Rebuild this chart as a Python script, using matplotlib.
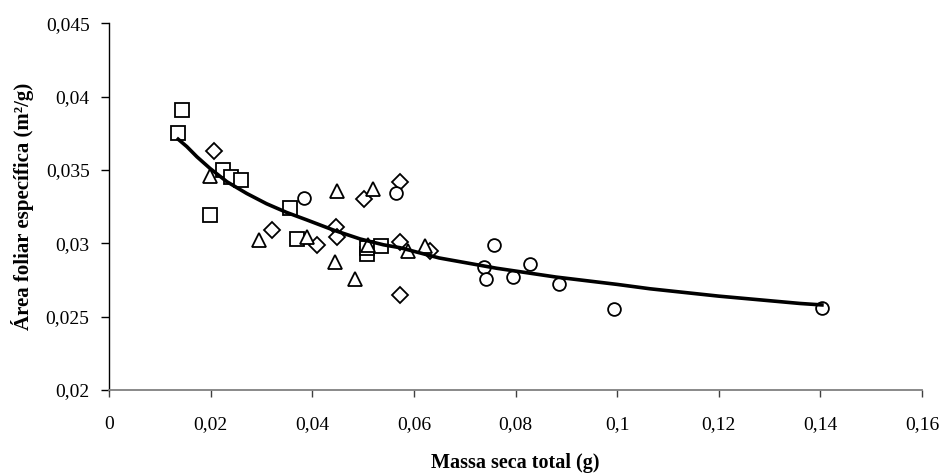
#!/usr/bin/env python3
"""
Specific leaf area vs total dry mass, with power trendline (Excel style).
"""

import matplotlib
matplotlib.use('Agg')
import matplotlib.pyplot as plt

# Data: total dry mass (g) and specific leaf area (m2/g)
sq_x = [0.0144, 0.0136, 0.0225, 0.0240, 0.0259, 0.0199, 0.0356, 0.0370, 0.0508, 0.0508, 0.0535]
sq_y = [0.0391, 0.0375, 0.0350, 0.0345, 0.0343, 0.0319, 0.0324, 0.0303, 0.0293, 0.0297, 0.0298]

di_x = [0.0207, 0.0320, 0.0409, 0.0446, 0.0449, 0.0502, 0.0573, 0.0573, 0.0573, 0.0631]
di_y = [0.0363, 0.0309, 0.0299, 0.0311, 0.0304, 0.0330, 0.0342, 0.0301, 0.0265, 0.0295]

tr_x = [0.0199, 0.0296, 0.0390, 0.0449, 0.0444, 0.0484, 0.0519, 0.0510, 0.0589, 0.0622]
tr_y = [0.0346, 0.0302, 0.0304, 0.0336, 0.0287, 0.0276, 0.0337, 0.0299, 0.0295, 0.0298]

ci_x = [0.0384, 0.0565, 0.0757, 0.0737, 0.0741, 0.0795, 0.0829, 0.0885, 0.0993, 0.1403]
ci_y = [0.0331, 0.0334, 0.0299, 0.0284, 0.0276, 0.0277, 0.0286, 0.0272, 0.0255, 0.0256]

# Trendline as traced on the chart
trend_x = [0.0136, 0.0153, 0.0173, 0.0199, 0.0232, 0.0271, 0.0310, 0.0350, 0.0389,
           0.0442, 0.0494, 0.0540, 0.0573, 0.0650, 0.0763, 0.0880, 0.1000, 0.1065,
           0.1200, 0.1360, 0.1403]
trend_y = [0.0371, 0.0366, 0.0359, 0.0351, 0.0342, 0.0334, 0.0327, 0.0321, 0.0316,
           0.0309, 0.0303, 0.0299, 0.0297, 0.0290, 0.0283, 0.0277, 0.0272, 0.0269,
           0.0264, 0.0259, 0.0258]

x_ticks = [0, 0.02, 0.04, 0.06, 0.08, 0.1, 0.12, 0.14, 0.16]
y_ticks = [0.02, 0.025, 0.03, 0.035, 0.04, 0.045]


def fmt(v):
    return ('%g' % v).replace('.', ',')


plt.rcParams['font.family'] = ['Liberation Serif', 'DejaVu Serif']

fig = plt.figure(figsize=(9.44, 4.74), dpi=100)
ax = fig.add_axes([0.1155, 0.1772, 0.8612, 0.7736])

mk = dict(linestyle='none', markerfacecolor='white', markeredgecolor='black',
          markeredgewidth=1.3)
ax.plot(sq_x, sq_y, marker='s', markersize=9.5, **mk)
ax.plot(di_x, di_y, marker='D', markersize=7.8, **mk)
ax.plot(tr_x, tr_y, marker='^', markersize=10, **mk)
ax.plot(ci_x, ci_y, marker='o', markersize=9.2, **mk)

ax.plot(trend_x, trend_y, color='black', linewidth=2.6, zorder=3,
        solid_joinstyle='round')

ax.set_xlim(0, 0.16)
ax.set_ylim(0.02, 0.045)
ax.set_xticks(x_ticks)
ax.set_xticklabels([fmt(v) for v in x_ticks])
ax.set_yticks(y_ticks)
ax.set_yticklabels([fmt(v) for v in y_ticks])

for s in ['top', 'right']:
    ax.spines[s].set_visible(False)
ax.spines['left'].set_color('black')
ax.spines['left'].set_linewidth(1.0)
ax.spines['bottom'].set_color('#808080')
ax.spines['bottom'].set_linewidth(1.3)

ax.tick_params(axis='x', direction='out', length=5, width=1.0, color='#404040',
               labelsize=14, pad=14)
ax.tick_params(axis='y', direction='out', length=6, width=1.0, color='black',
               labelsize=14, pad=8)

ax.set_xlabel('Massa seca total (g)', fontsize=14.5, fontweight='bold')
ax.set_ylabel('Área foliar específica (m²/g)', fontsize=15, fontweight='bold')
ax.xaxis.set_label_coords(0.5, -0.2)
ax.xaxis.label.set_va('center')
ax.yaxis.set_label_coords(-0.107, 0.5)
ax.yaxis.label.set_va('center')

plt.savefig('out.png', dpi=100)
print("Saved out.png")
